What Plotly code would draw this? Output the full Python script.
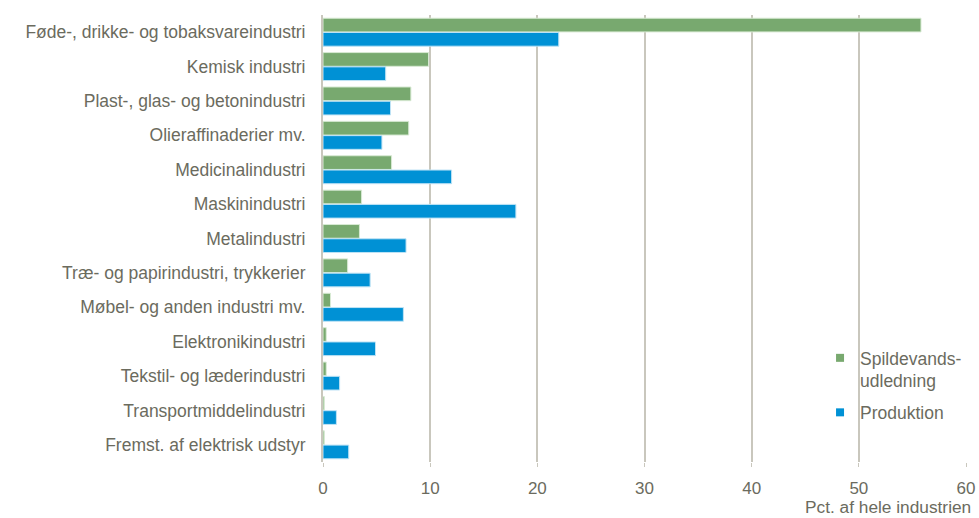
import plotly.graph_objects as go

categories = [
    "Føde-, drikke- og tobaksvareindustri",
    "Kemisk industri",
    "Plast-, glas- og betonindustri",
    "Olieraffinaderier mv.",
    "Medicinalindustri",
    "Maskinindustri",
    "Metalindustri",
    "Træ- og papirindustri, trykkerier",
    "Møbel- og anden industri mv.",
    "Elektronikindustri",
    "Tekstil- og læderindustri",
    "Transportmiddelindustri",
    "Fremst. af elektrisk udstyr",
]
spildevand = [55.8, 9.85, 8.2, 8.0, 6.4, 3.6, 3.4, 2.3, 0.7, 0.3, 0.3, 0.12, 0.12]
produktion = [22.0, 5.85, 6.3, 5.5, 12.0, 18.0, 7.75, 4.4, 7.5, 4.9, 1.55, 1.25, 2.4]
series_names = ["Spildevands-<br>udledning", "Produktion"]
x_ticks = [0, 10, 20, 30, 40, 50, 60]

GREEN = "#78a96f"
BLUE = "#0091d5"
TEXT = "#6b6b5e"
GRID = "#c9c7bd"
FONT = "Liberation Sans, Arial, sans-serif"

fig = go.Figure()
for vals, name, col, edge in [
    (spildevand, series_names[0], GREEN, "#d8ead4"),
    (produktion, series_names[1], BLUE, "#bfe3f5"),
]:
    fig.add_trace(go.Bar(
        y=categories, x=vals, orientation="h", name=name, showlegend=False,
        marker=dict(color=col, line=dict(color=edge, width=1)),
    ))
# legend entries with small square symbols
for i, (name, col) in enumerate(zip(series_names, [GREEN, BLUE])):
    fig.add_trace(go.Scatter(
        x=[None], y=[None], mode="markers", name=name,
        legendgroup=f"g{i}",
        marker=dict(symbol="square", size=8, color=col),
    ))

fig.update_layout(
    width=979, height=518,
    margin=dict(l=323, r=13, t=15, b=56, autoexpand=False),
    paper_bgcolor="white", plot_bgcolor="white",
    barmode="group", bargap=0.17, bargroupgap=0.04,
    font=dict(family=FONT, size=17.5, color=TEXT),
    showlegend=True,
    legend=dict(
        x=0.773, y=0.273, xanchor="left", yanchor="top",
        bgcolor="rgba(0,0,0,0)", font=dict(family=FONT, size=17.5, color=TEXT),
        itemwidth=30, traceorder="grouped", tracegroupgap=6, valign="top",
    ),
    xaxis=dict(
        range=[0, 60], tickvals=x_ticks, showgrid=True, gridcolor=GRID, gridwidth=2,
        zeroline=False, showline=False, automargin=False,
        ticks="outside", ticklen=4, tickcolor=GRID, tickwidth=1,
        ticklabelstandoff=7,
        tickfont=dict(family=FONT, size=17, color=TEXT),
    ),
    yaxis=dict(
        autorange="reversed", showgrid=False, zeroline=False, automargin=False,
        showline=True, linecolor=GRID, linewidth=2,
        ticks="", ticklabelstandoff=12,
        tickfont=dict(family=FONT, size=17.5, color=TEXT),
    ),
    annotations=[dict(
        text="Pct. af hele industrien", xref="paper", yref="paper",
        x=1, y=-0.101, xanchor="right", yanchor="middle", xshift=7,
        showarrow=False, font=dict(family=FONT, size=17.3, color=TEXT),
    )],
)

fig.write_html(
    "out.html",
    config={"displayModeBar": False},
    post_script="document.body.style.margin='0';document.body.style.overflow='hidden';",
)
